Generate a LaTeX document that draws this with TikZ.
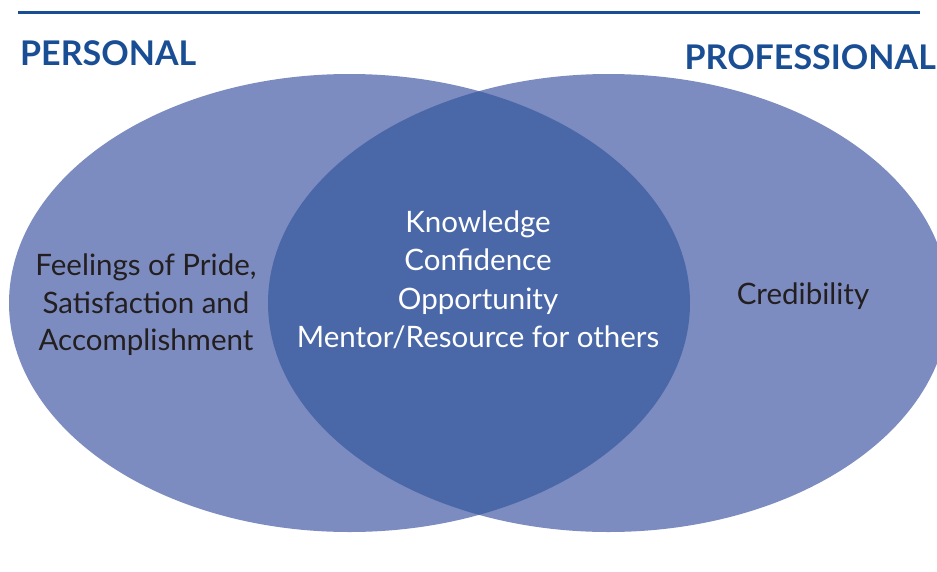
\documentclass[tikz,border=0pt]{standalone}
\usepackage{fontspec}
\setmainfont{Lato}
\definecolor{outerblue}{HTML}{7D8CC0}
\definecolor{lensblue}{HTML}{4A68A8}
\definecolor{titleblue}{HTML}{1A4E94}
\definecolor{textdark}{HTML}{231F20}
\begin{document}
\begin{tikzpicture}[x=1pt,y=-1pt,
  title/.style={text=titleblue,font=\fontsize{34}{40}\selectfont\bfseries,inner sep=0pt},
  bodytext/.style={text=textdark,font=\fontsize{29.5}{37.5}\selectfont,align=center,inner sep=0pt},
  lenstext/.style={text=white,font=\fontsize{29.5}{38.5}\selectfont,align=center,inner sep=0pt}]
\useasboundingbox (0,0) rectangle (937,571);
\begin{scope}
\clip (0,0) rectangle (937,571);
\fill[outerblue] (349.5,303) ellipse [x radius=340.5, y radius=229];
\fill[outerblue] (608.5,303) ellipse [x radius=340.5, y radius=229];
\begin{scope}
\clip (349.5,303) ellipse [x radius=340.5, y radius=229];
\fill[lensblue] (608.5,303) ellipse [x radius=340.5, y radius=229];
\end{scope}
\end{scope}
\coordinate (lineL) at (18,12);
\coordinate (lineR) at (920,12);
\draw[titleblue,line width=3pt] (lineL) -- (lineR);
\node[title,anchor=west] (personal) at (20,53) {PERSONAL};
\node[title,anchor=east] (professional) at (936,57) {PROFESSIONAL};
\node[bodytext] (left) at (146,305) {Feelings of Pride,\\Satisfaction and\\Accomplishment};
\node[lenstext] (center) at (478,280) {Knowledge\\Confidence\\Opportunity\\Mentor/Resource for others};
\node[bodytext] (right) at (803,296) {Credibility};
\end{tikzpicture}
\end{document}
